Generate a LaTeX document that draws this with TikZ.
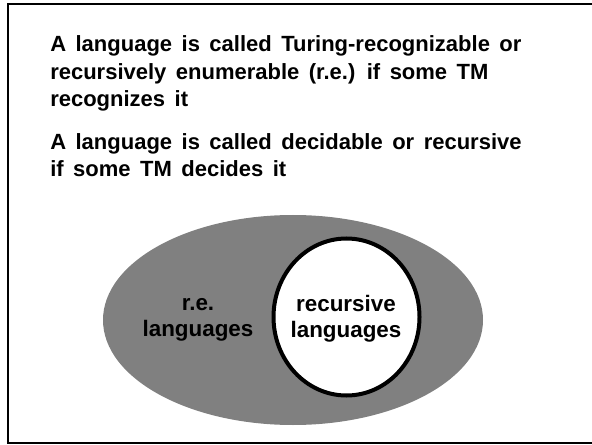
\documentclass[tikz,border=0pt]{standalone}
\usepackage{fontspec}
\setmainfont{Liberation Sans}[WordSpace=1.55]
\usepackage{xcolor}
\definecolor{setfill}{HTML}{808080}
\tikzset{
  txt/.style={font=\fontsize{16.5}{20.6}\selectfont\bfseries,align=left,inner sep=0pt,anchor=base west},
  lbl/.style={font=\fontsize{16.8}{19.5}\selectfont\bfseries,align=center,inner sep=0pt,anchor=base}
}
\begin{document}
\begin{tikzpicture}[x=0.75pt,y=-0.75pt]
  \useasboundingbox (0,0) rectangle (592,445);
  \draw[line width=1.5pt] (8,4) rectangle (597,443);
  % definitions (anchor = last baseline)
  \node[txt] (tr) at (50,106.5) {A language is called Turing-recognizable or\\recursively enumerable (r.e.) if some TM\\recognizes it};
  \node[txt] (dec) at (50,177) {A language is called decidable or recursive\\if some TM decides it};
  % the two classes
  \fill[setfill] (293,320) ellipse [x radius=190,y radius=105];
  \draw[line width=3pt,fill=white] (346.5,317) ellipse [x radius=73,y radius=78.5];
  \node[lbl] (re) at (198,336) {r.e.\\languages};
  \node[lbl] (rec) at (346,337.5) {recursive\\languages};
\end{tikzpicture}
\end{document}
